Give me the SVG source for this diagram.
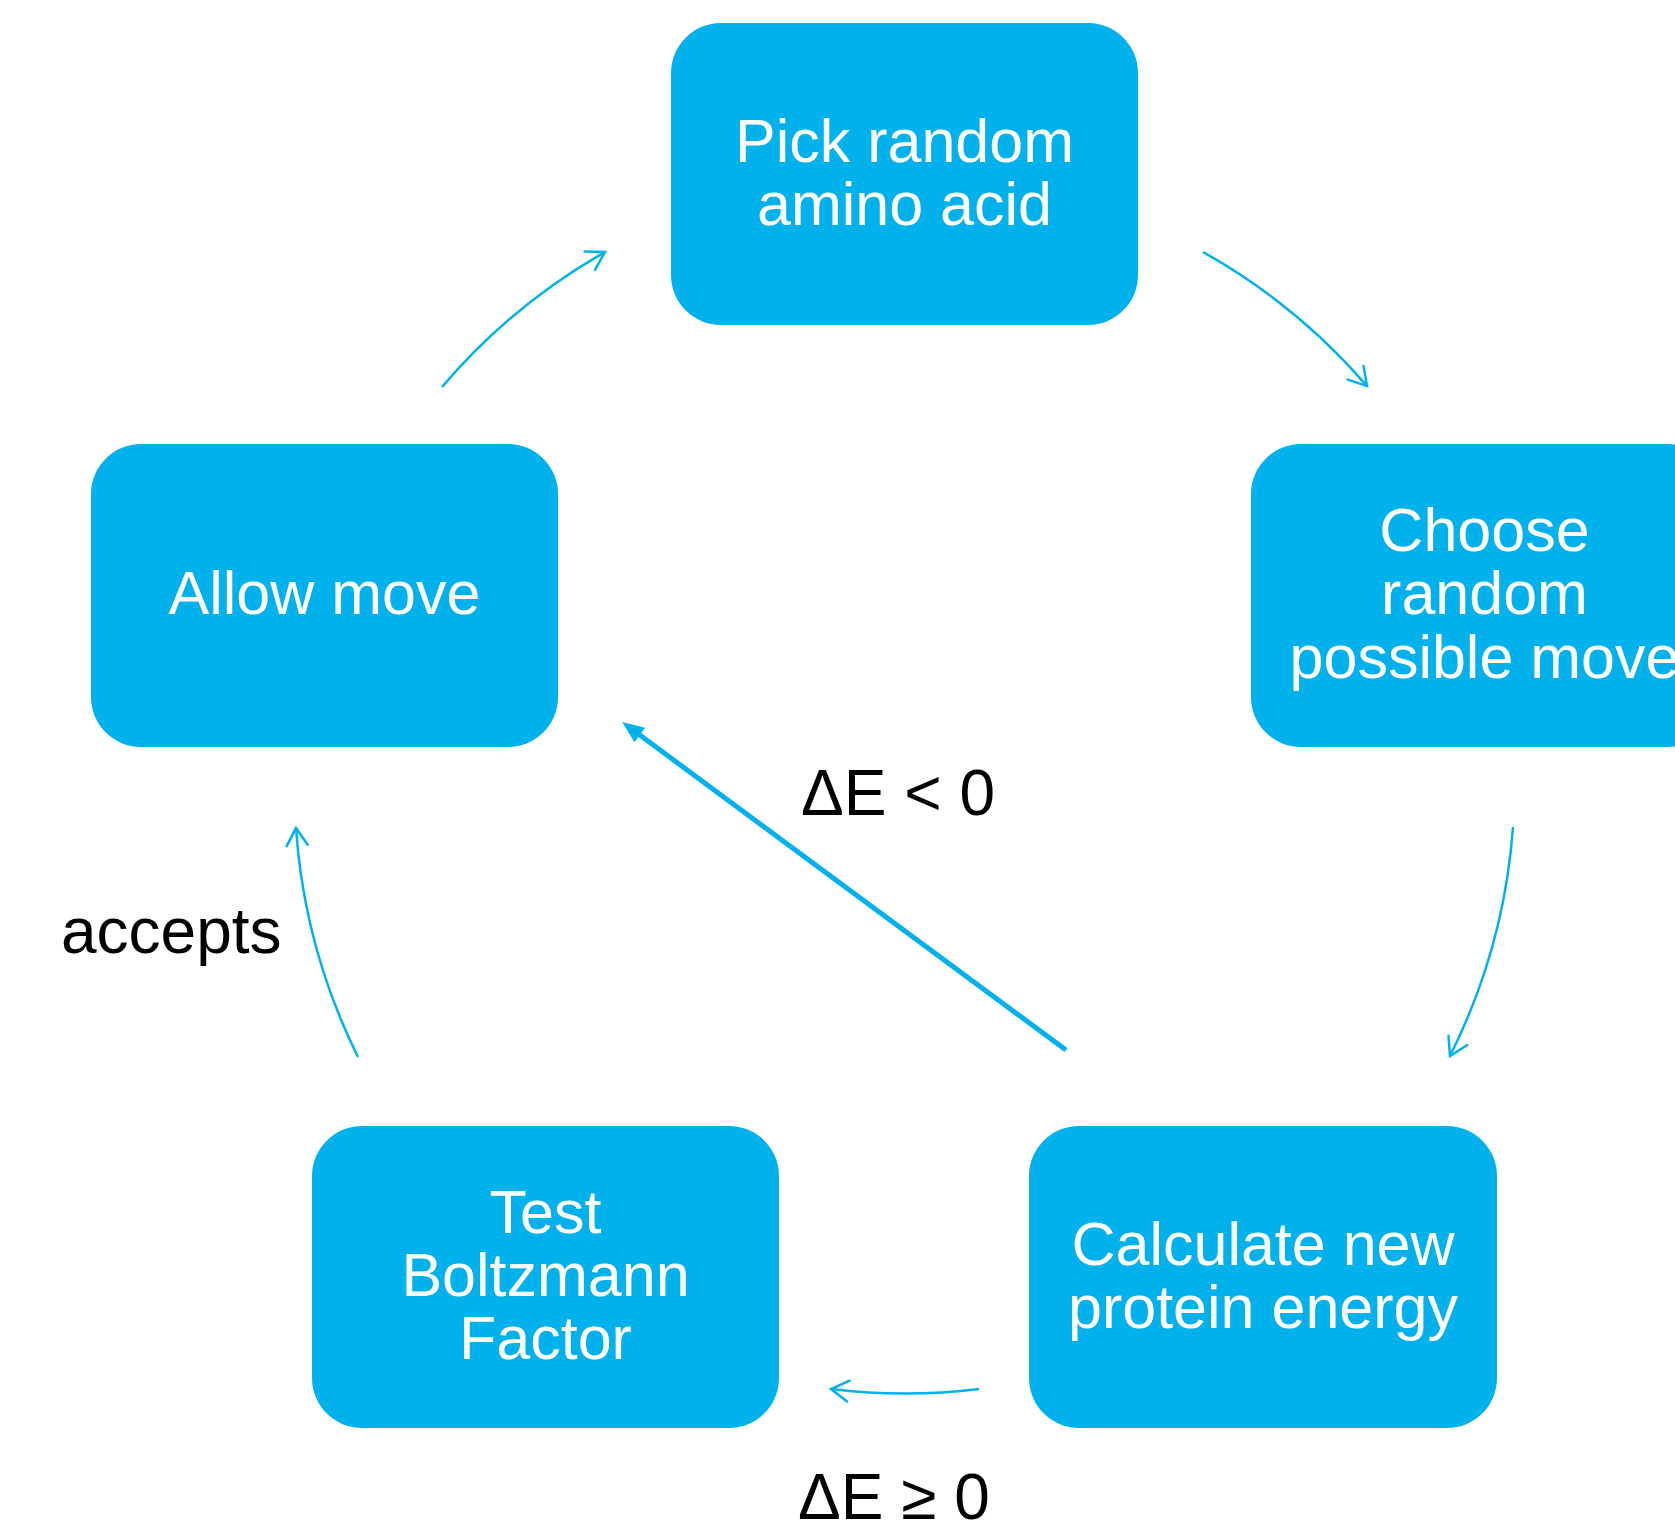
<svg xmlns="http://www.w3.org/2000/svg" width="1675" height="1533" viewBox="0 0 1675 1533">
<style>
.node rect{fill:#00B1EB}
.node text{fill:#fff;font-family:"Liberation Sans",Arial,sans-serif;font-size:61px;text-anchor:middle}
.lbl{fill:#000;font-family:"Liberation Sans",Arial,sans-serif;font-size:64px}
.arc{fill:none;stroke:#00B1EB;stroke-width:2.5;marker-end:url(#open)}
.thick{fill:none;stroke:#00B1EB;stroke-width:5;marker-end:url(#solid)}
</style>
<defs>
<marker id="open" markerUnits="userSpaceOnUse" markerWidth="40" markerHeight="40" viewBox="-25 -20 40 40" refX="0" refY="0" orient="auto" overflow="visible">
<path d="M-17.5,-10.5 L0,0 L-17.5,10.5" fill="none" stroke="#00B1EB" stroke-width="2.5" stroke-linecap="round" stroke-linejoin="miter"/>
</marker>
<marker id="solid" markerUnits="userSpaceOnUse" markerWidth="50" markerHeight="50" viewBox="-25 -25 50 50" refX="0" refY="0" orient="auto" overflow="visible">
<path d="M-6,-9 L16,0 L-6,9 Z" fill="#00B1EB"/>
</marker>
</defs>
<rect width="1675" height="1533" fill="#fff"/>
<g id="connectors">
<path class="arc" d="M442,387 A610,610 0 0 1 605,252"/>
<path class="arc" d="M1203,252 A610,610 0 0 1 1367,386"/>
<path class="arc" d="M1513,827 A610,610 0 0 1 1450,1056"/>
<path class="arc" d="M979,1389 A610,610 0 0 1 831,1389"/>
<path class="arc" d="M358,1057 A610,610 0 0 1 296,828"/>
<path class="thick" d="M1066,1050 L635,731.5"/>
</g>
<g id="node-pick" class="node">
<rect x="671" y="23" width="467" height="302" rx="50" ry="50"/>
<text x="904.5" y="162">Pick random</text>
<text x="904.5" y="225">amino acid</text>
</g>
<g id="node-choose" class="node">
<rect x="1251" y="444" width="467" height="303" rx="50" ry="50"/>
<text x="1484.5" y="551">Choose</text>
<text x="1484.5" y="614">random</text>
<text x="1484.5" y="678">possible move</text>
</g>
<g id="node-calc" class="node">
<rect x="1029" y="1126" width="468" height="302" rx="50" ry="50"/>
<text x="1263" y="1265">Calculate new</text>
<text x="1263" y="1328">protein energy</text>
</g>
<g id="node-test" class="node">
<rect x="312" y="1126" width="467" height="302" rx="50" ry="50"/>
<text x="545.5" y="1233">Test</text>
<text x="545.5" y="1296">Boltzmann</text>
<text x="545.5" y="1359">Factor</text>
</g>
<g id="node-allow" class="node">
<rect x="91" y="444" width="467" height="303" rx="50" ry="50"/>
<text x="324.5" y="614">Allow move</text>
</g>
<g id="labels">
<text class="lbl" x="801" y="815">ΔE &lt; 0</text>
<text class="lbl" x="61" y="953">accepts</text>
<text class="lbl" x="798" y="1519">ΔE ≥ 0</text>
</g>
</svg>
